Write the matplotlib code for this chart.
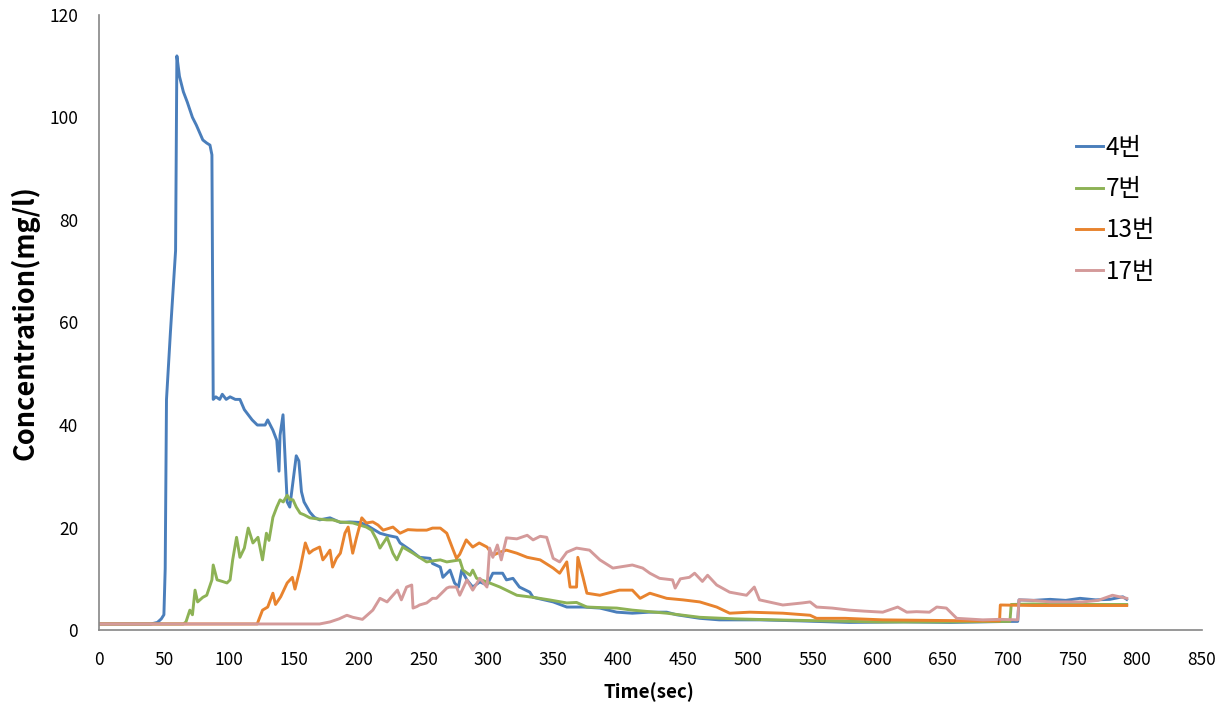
import matplotlib
matplotlib.use('Agg')
import matplotlib.pyplot as plt

plt.rcParams['font.family'] = ['Noto Sans CJK KR', 'DejaVu Sans']
plt.rcParams['axes.unicode_minus'] = False

# (time sec, concentration mg/l)
s4 = [(0, 1.2), (40, 1.2), (45, 1.5), (48, 2.2), (50, 3), (51, 12), (52, 45), (55, 58), (59, 74),
      (60, 112), (62, 108), (65, 105), (68, 103), (72, 100), (75, 98.5), (80, 95.6), (83, 95),
      (85.5, 94.6), (87, 92.7), (88, 45), (90, 45.5), (93, 45), (95, 46), (98, 45), (101, 45.5),
      (105, 45), (108.6, 45), (112, 43), (118, 41), (122, 40), (128, 40), (130, 41), (134, 39),
      (137, 37), (138.7, 31), (139.5, 38), (141.8, 42), (145, 25), (147, 24), (150, 30), (152, 34),
      (154, 33), (156, 27), (158, 25), (162.5, 23), (166, 22), (170, 21.5), (178, 21.9), (186, 21),
      (193, 21.1), (201, 21), (206, 20.5), (216.5, 18.9), (222, 18.5), (229.5, 18.1), (232, 17),
      (240, 15.6), (247, 14.2), (255, 14), (257, 13), (263, 12.3), (265, 10.3), (270.5, 11.7),
      (274, 9.2), (277, 8.4), (279.5, 11.7), (283.5, 9.8), (288, 8.4), (293.5, 9.4), (299, 8.8),
      (303.5, 11.1), (311, 11.1), (314, 9.8), (319, 10.1), (324, 8.4), (332, 7.4), (334.5, 6.4),
      (350, 5.5), (360.5, 4.5), (373, 4.5), (386, 4.3), (399, 3.5), (411, 3.3), (424, 3.5),
      (437.5, 3.5), (445, 3.0), (463, 2.3), (478, 2), (509, 2), (540, 1.8), (578, 1.5), (620, 1.6),
      (656, 1.5), (702, 1.7), (708, 1.7), (709, 5.9), (720, 5.8), (733, 6.0), (745, 5.8),
      (756, 6.2), (768, 5.9), (779, 6.0), (789, 6.5), (792, 6.0)]

s7 = [(0, 1.2), (65, 1.2), (67, 1.6), (70, 3.9), (72, 3), (74, 7.8), (76, 5.5), (80, 6.4), (83, 6.8),
      (87, 9.8), (88, 12.7), (91, 9.8), (95, 9.5), (98.6, 9.2), (101, 9.8), (103, 13.7), (106, 18.1),
      (108.6, 14.2), (112, 16), (115, 19.9), (118.6, 17), (122.5, 18.1), (126, 13.7), (129, 18.9),
      (131, 17.5), (134, 22), (137, 24), (139.5, 25.4), (142, 25), (145, 26.3), (147, 25.5),
      (149.5, 25.4), (152, 24), (155, 22.8), (158, 22.5), (162.5, 21.9), (168, 21.7), (175.6, 21.5),
      (180, 21.5), (185.7, 21.1), (195.6, 20.9), (206, 20.1), (210, 19.5), (214, 17.6), (216.5, 16),
      (222, 18.1), (226.5, 15), (229.5, 13.7), (234, 16.2), (242, 15), (245, 14.5), (252.5, 13.3),
      (257, 13.5), (263, 13.7), (268, 13.3), (273, 13.5), (278, 13.7), (280.5, 11.7), (286, 10.7),
      (288, 11.7), (291, 10.1), (299, 9.4), (309, 8.4), (322, 6.8), (334.5, 6.4), (347, 5.9),
      (360.5, 5.3), (368, 5.4), (376, 4.5), (386, 4.4), (399, 4.3), (411, 3.9), (437.5, 3.3),
      (463, 2.5), (490, 2.2), (520, 2.0), (560, 1.8), (600, 1.6), (650, 1.6), (700, 1.7),
      (702, 1.7), (703, 5.0), (720, 5.1), (750, 5.0), (792, 5.0)]

s13 = [(0, 1.2), (122, 1.2), (122.5, 1.6), (126, 3.9), (130, 4.5), (134, 7.2), (136, 5), (140, 6.5),
       (145, 9.2), (149, 10.3), (151, 8), (155, 12), (159, 17), (162, 15), (165, 15.6), (170, 16.2),
       (172.5, 13.7), (175, 14.5), (178, 15.6), (180, 12.3), (183, 14), (186, 15), (189.5, 18.9),
       (192, 20.1), (195.5, 15), (198.5, 18.1), (202.5, 21.9), (206, 20.9), (211, 21.1), (215, 20.5),
       (219, 19.5), (226.5, 20.1), (232, 18.9), (238, 19.6), (245, 19.5), (252.5, 19.5), (257, 19.9),
       (263, 19.9), (268, 18.9), (273, 15.6), (275.5, 14), (278, 14.8), (283, 17.6), (288, 16.2),
       (293, 17), (299, 16.2), (303.5, 14.6), (309, 15.2), (314, 15.6), (322, 15), (330, 14.2),
       (340, 13.7), (350, 12.1), (355, 11.1), (360.5, 13.3), (363, 8.4), (368, 8.4), (369, 14.2),
       (373, 10.3), (376, 7.2), (386, 6.8), (401, 7.8), (411, 7.8), (417, 6.2), (424.5, 7.2),
       (437.5, 6.2), (450, 5.9), (463, 5.5), (476, 4.5), (486, 3.3), (501.5, 3.5), (527, 3.3),
       (548, 2.9), (553, 2.3), (575, 2.3), (604, 2.0), (640, 1.9), (680, 1.8), (694, 1.8),
       (694.6, 4.9), (720, 4.8), (750, 4.8), (792, 4.8)]

s17 = [(0, 1.2), (170, 1.2), (178, 1.6), (185, 2.2), (191, 2.9), (195.6, 2.5), (203, 2.1), (207, 3),
       (211, 3.9), (216.5, 6.2), (222, 5.5), (226.5, 6.8), (230, 7.8), (233, 5.9), (237, 8.4),
       (241, 8.8), (242, 4.3), (245, 4.6), (247, 4.9), (252.5, 5.3), (257, 6.2), (260, 6.2),
       (268, 8.2), (270, 8.4), (275.5, 8.4), (278, 6.8), (283.5, 9.8), (288, 7.8), (293.5, 10.1),
       (299, 8.4), (301, 16), (303.5, 14.2), (307, 16.6), (310, 13.7), (314, 18), (322, 17.8),
       (330, 18.5), (334.5, 17.6), (340, 18.3), (345, 18.1), (350, 14), (355, 13.3), (360.5, 15.2),
       (368, 16), (378, 15.6), (386, 13.7), (396, 12.1), (401, 12.3), (411, 12.7), (419, 12.1),
       (424.5, 11.1), (432, 10.1), (442, 9.8), (444, 8.2), (448, 10), (455, 10.3), (459, 11.1),
       (465, 9.5), (469, 10.7), (476, 8.8), (486, 7.4), (499, 6.8), (505, 8.4), (509, 5.9),
       (518, 5.4), (527, 4.9), (542, 5.3), (548, 5.5), (553, 4.5), (565, 4.3), (578.5, 3.9),
       (590, 3.7), (604, 3.5), (615.5, 4.5), (622.5, 3.5), (630, 3.6), (640, 3.5), (645.6, 4.5),
       (653, 4.3), (661, 2.3), (681, 2.0), (694, 2.1), (708, 2.0), (709, 5.9), (720, 5.8),
       (733, 5.5), (758, 5.5), (770, 5.8), (781, 6.8), (792, 6.2)]

names = ['4번', '7번', '13번', '17번']
colors = ['#4A7EBB', '#8DB255', '#E8832E', '#D49A9A']
x_ticks = list(range(0, 851, 50))
y_ticks = list(range(0, 121, 20))

fig = plt.figure(figsize=(12.24, 7.08), dpi=100)
ax = fig.add_axes([0.0809, 0.110, 0.9011, 0.869])

for s, name, col in zip([s4, s7, s13, s17], names, colors):
    t = [p[0] for p in s]
    c = [p[1] for p in s]
    ax.plot(t, c, color=col, lw=2.1, label=name)

ax.set_xlim(0, 850)
ax.set_ylim(0, 120)
ax.set_xticks(x_ticks)
ax.set_yticks(y_ticks)
ax.tick_params(length=0, labelsize=12.5, pad=15)
for sp in ['top', 'right']:
    ax.spines[sp].set_visible(False)
for sp in ['left', 'bottom']:
    ax.spines[sp].set_color('#868686')
    ax.spines[sp].set_linewidth(1.2)

ax.set_xlabel('Time(sec)', fontsize=13.5, fontweight='bold')
ax.set_ylabel('Concentration(mg/l)', fontsize=19.5, fontweight='bold')
ax.xaxis.set_label_coords(0.4986, -0.084)
ax.yaxis.set_label_coords(-0.054, 0.50)

ax.legend(loc='upper left', bbox_to_anchor=(0.886, 0.805), frameon=False, fontsize=17.5,
          handlelength=1.1, handletextpad=0.1, labelspacing=0.63, borderpad=0, borderaxespad=0)

plt.savefig('out.png', dpi=100)
